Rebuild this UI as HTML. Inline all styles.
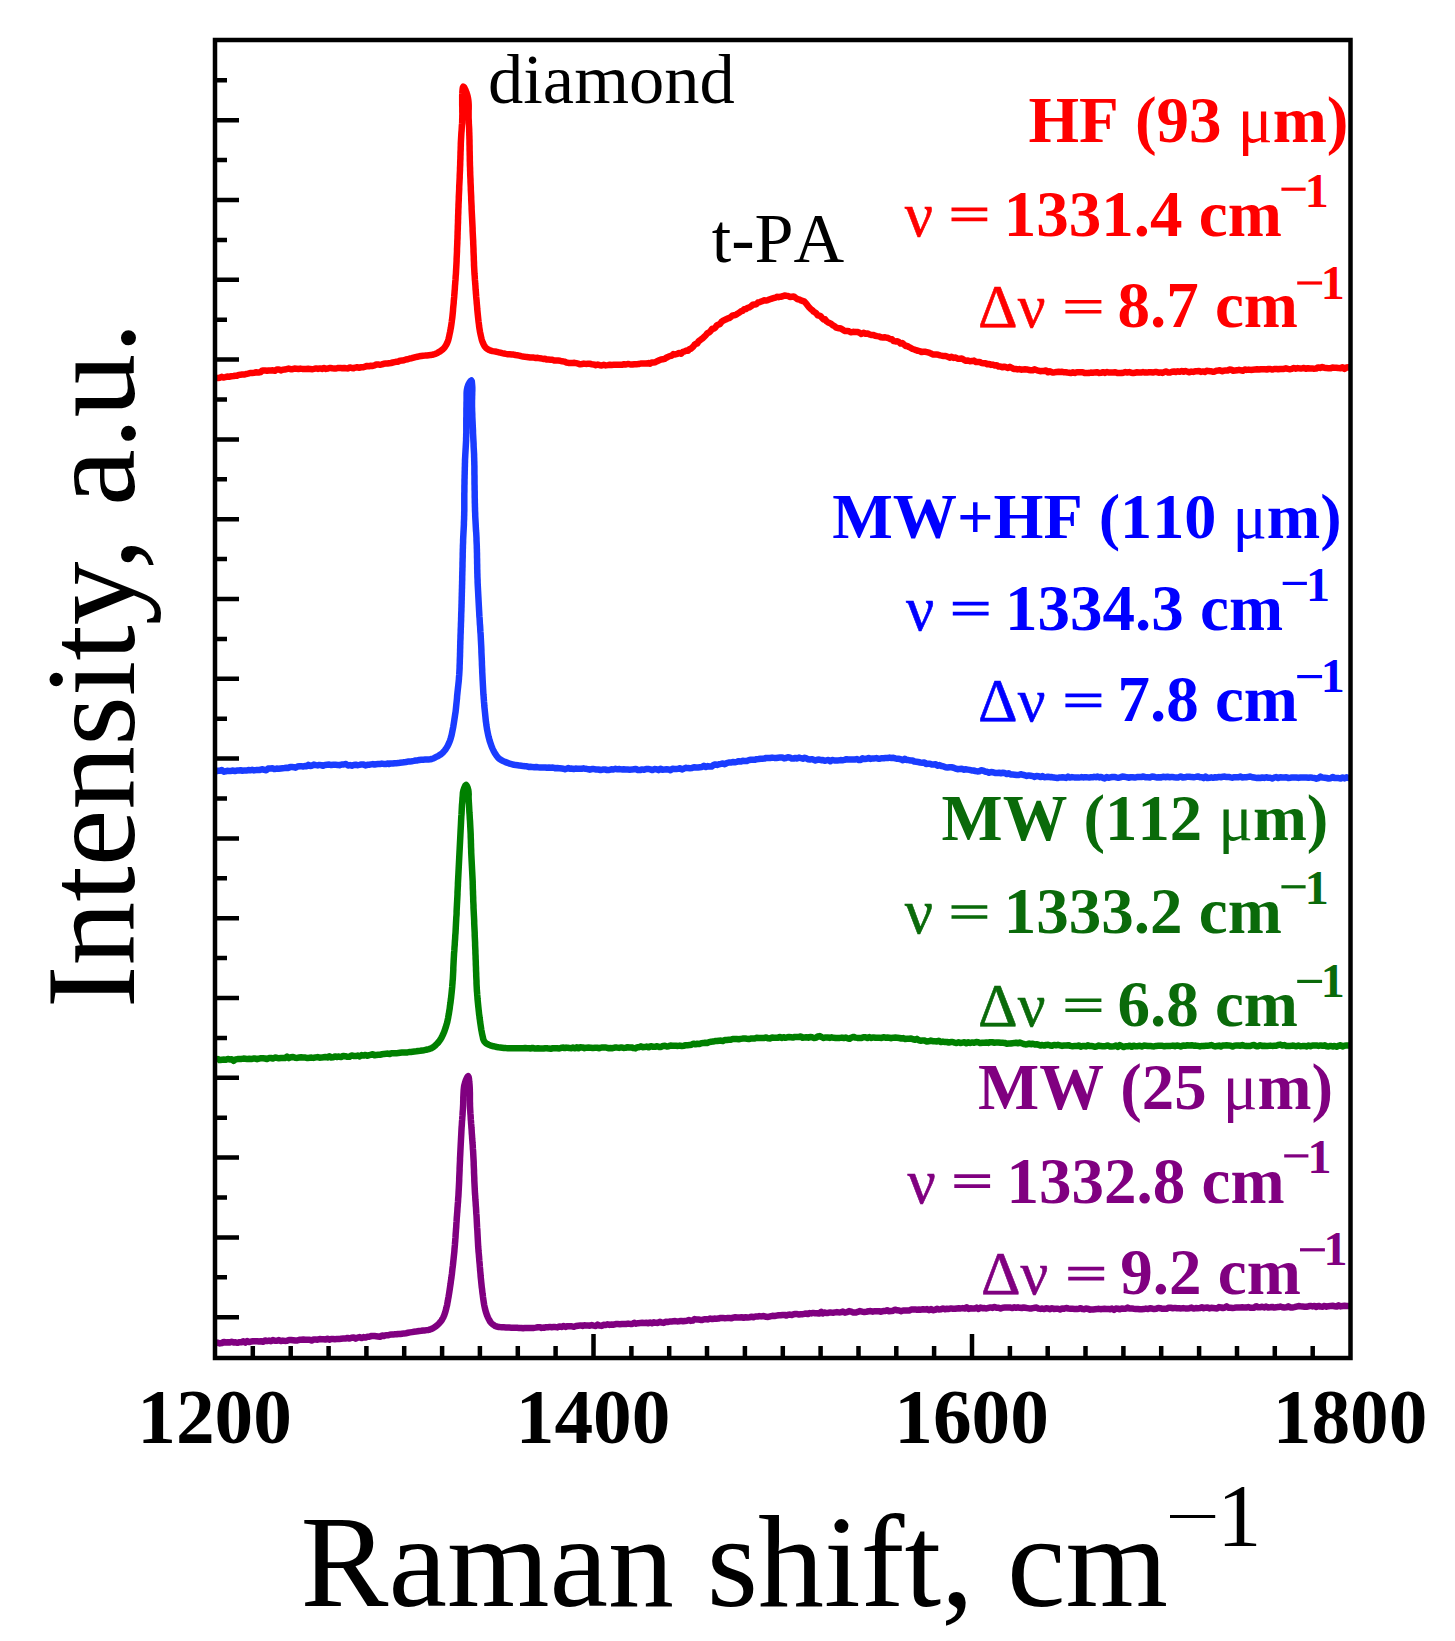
<!DOCTYPE html>
<html><head><meta charset="utf-8"><title>Raman spectra</title>
<style>html,body{margin:0;padding:0;background:#fff;width:1455px;height:1641px;overflow:hidden}svg{display:block}text{font-family:"Liberation Serif",serif;font-kerning:none}</style>
</head><body>
<svg width="1455" height="1641" viewBox="0 0 1455 1641">
<rect width="1455" height="1641" fill="#fff"/>
<g>
<polyline fill="none" stroke="#ff0000" stroke-width="6.5" stroke-linejoin="round" stroke-linecap="butt" points="216.0,378.1 217.9,378.1 219.8,377.7 221.6,376.8 223.4,377.5 225.3,377.1 227.2,376.5 229.2,376.7 231.3,376.3 233.6,376.0 235.2,375.7 236.9,375.7 238.6,374.9 240.4,374.8 242.2,374.4 244.1,374.6 246.1,374.0 248.1,373.6 250.1,373.0 252.1,372.9 254.2,372.7 256.3,372.3 258.4,372.6 260.5,372.1 262.6,370.4 264.7,370.4 266.8,370.8 268.8,370.5 270.9,370.5 272.9,370.3 274.9,370.8 276.9,369.4 278.8,369.5 280.8,370.4 282.7,369.7 284.7,369.6 286.6,369.1 288.6,368.6 290.6,369.2 292.5,369.2 294.5,368.6 296.4,368.8 298.4,369.0 300.3,368.6 302.3,368.9 304.3,369.0 306.2,368.9 308.2,368.7 310.1,369.1 312.1,369.2 314.0,368.9 316.0,368.4 318.0,368.9 320.0,368.4 322.0,368.9 324.0,368.1 326.0,368.9 328.1,368.5 330.1,367.9 332.2,368.3 334.2,368.4 336.2,368.5 338.3,367.9 340.3,367.9 342.3,368.3 344.2,368.0 346.2,368.3 348.1,368.4 349.9,367.4 351.8,368.0 353.6,368.3 355.3,367.6 357.0,367.3 359.2,367.7 361.2,367.3 363.3,367.3 365.2,366.6 367.1,365.9 369.0,366.2 370.9,365.8 372.7,365.9 374.5,365.4 376.3,364.5 378.2,364.4 380.0,364.8 381.9,364.4 383.7,363.8 385.6,363.6 387.4,363.5 389.2,363.2 391.0,363.0 392.8,362.5 394.6,362.1 396.4,361.8 398.2,361.7 400.0,360.7 402.0,360.6 403.9,360.2 405.9,359.5 407.8,359.2 409.8,358.5 411.7,358.2 413.7,357.6 415.5,357.1 417.4,356.7 419.2,356.3 421.1,356.0 423.1,355.7 425.0,355.6 426.9,355.4 428.8,355.2 430.5,355.1 432.1,354.8 433.5,354.5 435.5,353.9 437.1,353.1 438.7,352.2 440.1,351.4 441.4,350.4 442.7,349.4 443.9,348.2 444.9,346.9 445.8,345.5 446.7,344.0 447.4,342.4 448.0,340.8 448.5,339.1 448.9,337.4 449.3,335.6 449.7,333.7 450.1,331.9 450.4,330.1 450.8,328.2 451.1,326.2 451.4,324.2 451.7,322.1 451.9,320.3 452.2,318.5 452.4,316.6 452.6,314.6 452.8,312.6 453.0,310.6 453.1,308.6 453.3,306.7 453.5,304.7 453.7,302.8 453.8,300.9 454.0,298.9 454.2,297.0 454.3,295.1 454.5,293.2 454.6,291.2 454.8,289.3 454.9,287.4 455.0,285.5 455.2,283.6 455.3,281.7 455.5,279.8 455.6,278.0 455.7,276.0 455.9,274.1 456.0,272.1 456.1,270.0 456.2,268.2 456.3,266.5 456.4,264.7 456.5,262.9 456.6,261.0 456.6,259.1 456.7,257.2 456.8,255.3 456.9,253.3 457.0,251.3 457.0,249.2 457.1,247.1 457.2,245.0 457.3,243.3 457.3,241.6 457.4,239.8 457.5,238.0 457.5,236.1 457.6,234.2 457.6,232.3 457.7,230.4 457.8,228.4 457.8,226.5 457.9,224.5 458.0,222.5 458.0,220.5 458.1,218.5 458.1,216.5 458.2,214.5 458.3,212.6 458.3,210.6 458.4,208.7 458.5,206.7 458.5,204.9 458.6,203.0 458.7,201.0 458.8,199.0 458.8,197.0 458.9,195.0 459.0,193.1 459.1,191.1 459.2,189.1 459.2,187.2 459.3,185.2 459.4,183.3 459.5,181.3 459.6,179.4 459.7,177.5 459.7,175.6 459.8,173.8 459.9,171.9 460.0,170.1 460.0,168.3 460.1,166.5 460.2,164.5 460.2,162.5 460.3,160.5 460.4,158.5 460.4,156.6 460.5,154.7 460.5,152.8 460.6,151.0 460.7,149.1 460.7,147.3 460.8,145.4 460.8,143.6 460.9,141.8 461.0,140.0 461.1,138.1 461.2,136.2 461.3,134.4 461.4,132.6 461.6,130.7 461.7,128.9 461.8,127.1 461.9,125.3 462.1,123.5 462.2,121.7 462.2,119.9 462.3,118.0 462.3,116.0 462.4,113.9 462.3,111.8 462.3,109.6 462.3,107.4 462.2,105.2 462.2,103.1 462.2,101.0 462.2,99.1 462.2,97.2 462.2,95.5 462.3,94.0 462.4,91.5 462.6,89.2 462.9,87.4 463.3,86.6 464.0,87.1 464.7,88.4 465.5,90.0 466.0,91.3 466.6,92.8 467.1,94.5 467.6,96.2 468.0,98.1 468.3,100.0 468.5,101.6 468.6,103.3 468.7,105.1 468.7,107.0 468.7,108.9 468.6,110.8 468.6,112.7 468.6,114.5 468.6,116.3 468.6,118.0 468.7,119.8 468.8,121.4 468.8,123.0 468.9,124.5 469.0,126.2 469.1,128.0 469.2,130.0 469.2,131.5 469.3,133.0 469.3,134.7 469.4,136.4 469.4,138.2 469.5,140.1 469.5,142.0 469.5,144.0 469.6,146.0 469.6,148.0 469.6,150.1 469.7,152.2 469.7,154.3 469.8,156.4 469.8,158.5 469.8,160.5 469.9,162.6 469.9,164.6 470.0,166.5 470.1,168.4 470.1,170.3 470.2,172.2 470.2,174.1 470.3,176.0 470.4,177.9 470.5,179.8 470.5,181.7 470.6,183.6 470.7,185.5 470.8,187.5 470.8,189.4 470.9,191.3 471.0,193.2 471.1,195.1 471.2,197.1 471.2,199.1 471.3,201.0 471.4,203.0 471.5,204.9 471.6,206.7 471.6,208.7 471.7,210.6 471.8,212.6 471.9,214.5 472.0,216.5 472.1,218.5 472.2,220.5 472.3,222.5 472.4,224.5 472.5,226.5 472.6,228.4 472.6,230.4 472.7,232.3 472.8,234.2 472.9,236.1 473.0,238.0 473.1,239.8 473.2,241.6 473.2,243.3 473.3,245.0 473.4,247.1 473.5,249.2 473.5,251.3 473.6,253.3 473.7,255.3 473.8,257.2 473.8,259.1 473.9,261.0 474.0,262.9 474.0,264.7 474.1,266.5 474.2,268.2 474.3,270.0 474.4,272.1 474.5,274.1 474.7,276.0 474.8,278.0 474.9,279.8 475.1,281.7 475.2,283.6 475.4,285.5 475.5,287.4 475.6,289.3 475.8,291.2 475.9,293.2 476.1,295.1 476.2,297.0 476.4,298.9 476.6,300.9 476.7,302.8 476.9,304.7 477.1,306.7 477.2,308.6 477.4,310.6 477.6,312.6 477.8,314.6 478.0,316.6 478.2,318.5 478.4,320.3 478.6,322.1 478.9,324.2 479.1,326.2 479.4,328.2 479.7,330.1 480.0,331.9 480.4,333.7 480.8,335.6 481.2,337.4 481.6,339.1 482.1,340.8 482.7,342.4 483.4,344.0 484.2,345.6 485.2,347.0 486.2,348.2 487.6,349.2 489.2,350.0 490.8,350.6 492.6,351.1 494.5,351.4 496.6,351.8 498.3,352.2 500.2,352.6 502.1,353.1 504.0,353.5 505.9,353.9 507.8,354.2 509.7,354.3 511.7,354.5 513.6,354.6 515.5,355.0 517.4,355.3 519.2,355.6 521.1,356.1 523.0,356.5 525.1,356.8 526.8,357.0 528.5,357.2 530.2,357.4 532.0,357.5 533.8,357.6 535.8,358.0 537.8,357.8 540.0,358.3 541.6,358.5 543.2,359.0 544.9,358.7 546.7,359.6 548.5,359.5 550.4,359.7 552.3,359.8 554.2,360.5 556.2,360.6 558.2,360.6 560.2,360.8 562.3,361.3 564.3,361.6 566.4,362.5 568.4,362.9 570.5,362.9 572.5,362.9 574.4,362.8 576.2,363.2 578.1,363.7 580.0,364.3 582.0,364.0 583.9,363.6 585.9,363.9 587.8,363.8 589.8,363.8 591.8,364.2 593.8,364.4 595.8,365.2 597.8,364.6 599.8,365.2 601.8,365.4 603.8,364.8 605.8,365.4 607.8,365.1 609.8,364.7 611.7,364.9 613.7,364.8 615.7,364.7 617.7,364.7 619.8,364.8 621.9,364.8 624.0,364.2 626.1,364.5 628.2,363.9 630.3,364.5 632.4,364.5 634.5,364.2 636.6,364.2 638.7,364.1 640.7,363.5 642.7,363.5 644.6,363.6 646.5,363.6 648.4,363.1 650.1,363.7 651.8,362.4 653.5,362.5 655.0,362.3 657.2,361.2 659.2,360.3 661.1,359.5 662.8,359.3 664.5,358.9 666.2,357.8 667.9,357.0 669.6,356.1 671.4,355.8 673.3,354.1 675.2,354.5 677.2,353.9 679.1,352.9 681.1,353.8 683.0,351.8 684.8,351.3 686.5,350.6 688.0,350.8 689.5,349.1 690.8,348.8 692.0,347.8 693.2,346.6 694.5,344.8 696.0,343.8 697.2,343.6 698.5,341.3 699.8,340.3 701.2,339.3 702.7,338.3 704.2,336.7 705.7,335.4 707.3,333.3 708.9,332.6 710.5,331.1 712.1,328.8 713.7,328.7 715.2,327.8 716.8,325.4 718.3,324.6 719.9,324.1 721.5,321.9 723.0,320.7 724.6,320.0 726.2,319.3 727.8,318.4 729.4,318.0 731.0,316.9 732.6,315.4 734.2,315.3 735.8,314.9 737.4,313.8 739.1,312.8 740.8,311.4 742.5,310.9 744.2,309.2 745.9,309.0 747.6,307.8 749.3,307.4 751.1,306.3 752.8,304.8 754.5,304.5 756.3,304.2 758.0,302.5 759.9,302.1 761.9,301.3 763.9,300.3 765.9,300.6 767.9,300.1 769.9,299.3 771.9,298.6 773.7,298.0 775.5,297.6 777.2,296.8 778.7,297.2 780.8,296.7 782.7,296.3 784.5,295.6 786.5,295.8 788.1,295.9 789.9,297.0 791.8,296.7 793.7,296.4 795.7,297.9 797.6,299.2 799.4,299.4 801.0,300.4 802.6,301.0 804.1,301.4 805.5,302.8 806.8,304.4 808.1,306.2 809.5,307.8 811.0,309.3 812.3,310.0 813.6,311.7 815.0,312.4 816.3,313.4 817.7,315.3 819.1,315.7 820.6,316.2 822.1,318.0 823.6,319.5 825.1,319.3 826.6,321.4 828.1,322.4 829.6,323.0 831.2,323.9 832.8,325.3 834.5,326.1 836.2,327.7 838.1,328.2 840.0,328.2 841.6,329.0 843.3,330.1 845.2,331.1 847.1,330.9 849.0,331.3 851.0,332.3 853.1,331.8 855.1,332.1 857.2,331.9 859.3,332.6 861.4,334.0 863.5,332.8 865.5,333.7 867.5,333.4 869.4,334.4 871.2,335.0 873.0,334.9 875.1,335.7 877.1,336.1 879.0,336.4 880.9,337.3 882.8,337.4 884.6,337.3 886.4,337.6 888.2,338.0 890.0,339.0 891.9,339.3 893.7,341.1 895.4,341.4 897.2,341.3 898.9,342.0 900.6,343.6 902.3,343.1 904.0,344.5 905.7,345.9 907.4,346.1 909.1,347.1 910.8,347.9 912.6,349.0 914.3,349.5 916.1,350.2 917.9,350.8 919.7,351.1 921.5,352.0 923.3,351.7 925.1,351.8 926.9,352.1 928.8,352.6 930.8,353.4 932.8,354.5 935.0,354.6 936.6,354.6 938.4,354.8 940.1,355.3 941.9,355.7 943.8,356.0 945.7,356.0 947.6,356.7 949.6,357.7 951.6,356.8 953.6,357.9 955.6,357.5 957.7,358.7 959.7,358.7 961.8,358.5 963.9,359.8 965.9,360.8 968.0,360.5 970.0,361.2 972.0,361.1 974.0,360.6 976.0,362.0 977.9,362.0 979.8,361.9 981.6,363.1 983.5,363.3 985.4,363.3 987.3,364.2 989.1,363.9 991.0,364.9 992.9,364.6 994.8,365.5 996.7,365.2 998.6,366.6 1000.4,366.5 1002.3,367.3 1004.2,366.7 1006.1,367.2 1008.0,368.0 1009.9,366.9 1011.7,367.8 1013.6,368.9 1015.5,368.9 1017.4,369.4 1019.3,369.1 1021.3,369.7 1023.2,369.4 1025.1,369.3 1026.9,369.4 1028.8,370.0 1030.7,370.2 1032.6,370.3 1034.4,369.3 1036.3,370.0 1038.2,370.7 1040.1,371.2 1042.0,371.0 1044.0,371.0 1046.0,370.5 1048.0,372.3 1050.0,371.2 1052.1,372.4 1054.3,372.4 1056.5,372.0 1058.7,371.8 1060.4,372.1 1062.1,371.7 1063.8,372.3 1065.6,372.2 1067.4,372.5 1069.2,372.7 1071.1,373.1 1073.0,372.3 1074.9,372.9 1076.8,372.2 1078.7,372.2 1080.7,372.3 1082.7,372.2 1084.6,373.0 1086.7,373.0 1088.7,373.1 1090.7,372.6 1092.7,372.8 1094.8,372.4 1096.8,372.2 1098.9,372.9 1101.0,372.8 1103.0,372.2 1105.1,372.9 1107.1,372.0 1109.2,372.6 1111.3,372.4 1113.3,372.5 1115.3,372.2 1117.4,373.1 1119.4,372.9 1121.4,373.1 1123.4,372.7 1125.4,372.1 1127.3,372.5 1129.3,372.1 1131.2,372.8 1133.1,373.1 1135.0,372.7 1137.0,372.3 1139.0,372.4 1141.0,372.6 1143.0,372.0 1145.0,372.6 1147.0,372.6 1148.9,372.3 1150.9,372.3 1152.9,372.5 1154.8,372.1 1156.8,372.1 1158.7,372.7 1160.6,372.4 1162.5,373.0 1164.5,371.9 1166.4,371.5 1168.3,372.6 1170.2,372.5 1172.1,371.8 1174.1,371.5 1176.0,372.0 1177.9,371.3 1179.8,371.8 1181.7,371.0 1183.6,371.8 1185.5,371.0 1187.4,371.7 1189.4,372.3 1191.3,371.6 1193.2,371.9 1195.1,371.3 1197.1,371.2 1199.0,370.9 1200.9,371.9 1202.9,371.4 1204.8,372.0 1206.7,370.8 1208.6,371.1 1210.5,371.2 1212.4,371.7 1214.3,371.8 1216.2,370.7 1218.1,370.5 1220.0,370.2 1221.9,371.3 1223.7,370.7 1225.6,370.4 1227.5,370.6 1229.4,369.5 1231.3,369.8 1233.2,370.7 1235.1,370.5 1237.1,370.3 1239.0,369.8 1240.9,370.3 1242.9,370.7 1244.8,369.5 1246.8,369.9 1248.8,369.6 1250.8,369.9 1252.8,369.7 1254.8,369.6 1256.8,369.2 1258.9,369.5 1260.9,369.2 1263.0,369.3 1264.8,369.3 1266.7,369.5 1268.6,369.0 1270.4,369.0 1272.3,369.6 1274.2,369.0 1276.2,368.9 1278.1,369.3 1280.0,369.0 1282.0,368.9 1283.9,368.9 1285.9,368.3 1287.9,368.9 1289.8,369.2 1291.8,368.9 1293.8,368.0 1295.8,368.7 1297.8,368.1 1299.8,368.4 1301.8,368.5 1303.9,367.9 1305.9,368.8 1307.9,368.2 1310.0,368.5 1312.0,368.4 1314.0,368.7 1316.1,368.6 1318.1,367.4 1320.1,368.0 1322.2,367.1 1324.2,367.7 1326.3,368.1 1328.3,368.2 1330.3,368.3 1332.4,367.6 1334.4,367.8 1336.4,367.7 1338.5,368.1 1340.5,368.2 1342.5,367.3 1344.5,368.9 1346.5,367.4 1348.5,367.2 1350.5,367.5"/>
<polyline fill="none" stroke="#1a3cff" stroke-width="6.5" stroke-linejoin="round" stroke-linecap="butt" points="216.0,771.2 217.9,770.8 219.8,770.8 221.7,770.0 223.6,771.7 225.5,771.4 227.3,770.7 229.2,771.1 231.1,770.9 233.0,770.5 234.9,771.1 236.8,770.6 238.7,770.5 240.6,770.3 242.5,770.7 244.4,770.4 246.3,770.6 248.2,770.1 250.1,770.3 252.1,769.8 254.0,770.4 256.0,770.1 257.9,770.0 260.0,769.9 262.0,769.2 264.1,769.8 266.2,770.2 268.2,768.6 270.3,768.4 272.4,768.3 274.5,769.1 276.6,768.6 278.6,768.8 280.7,768.5 282.7,768.2 284.6,768.0 286.6,767.7 288.5,767.9 290.3,767.0 292.1,767.1 293.8,767.2 295.5,767.7 297.6,766.5 299.6,766.2 301.4,766.2 303.2,766.6 304.9,765.9 306.6,766.3 308.3,764.9 310.1,765.9 311.9,765.7 313.9,764.6 316.0,765.1 317.7,765.4 319.4,764.9 321.3,765.2 323.1,765.8 325.1,764.9 327.1,764.7 329.2,764.5 331.2,765.1 333.3,764.8 335.5,764.8 337.6,764.9 339.7,765.2 341.8,764.5 343.9,764.4 346.0,764.0 348.0,765.5 350.0,765.1 351.9,765.7 353.8,765.0 355.6,764.7 357.3,765.2 359.4,764.9 361.5,764.4 363.5,764.5 365.4,765.4 367.3,764.8 369.2,764.7 371.0,764.4 372.8,764.1 374.6,764.6 376.4,764.2 378.2,763.9 380.0,764.0 381.9,763.6 383.7,763.9 385.6,764.1 387.4,763.5 389.2,764.0 391.0,763.4 392.8,763.5 394.6,763.2 396.4,763.2 398.2,763.1 400.0,762.8 402.0,762.6 403.9,762.3 405.9,762.0 407.9,761.6 409.9,761.4 411.8,761.2 413.8,760.9 415.6,760.5 417.4,760.4 419.2,760.0 421.2,759.8 423.2,759.7 425.1,759.6 427.0,759.5 428.7,759.4 430.3,759.3 431.7,759.0 433.2,758.5 434.5,757.9 435.8,757.2 437.4,756.4 439.0,755.4 440.7,754.4 442.2,753.2 443.5,751.9 444.7,750.5 445.8,749.0 446.8,747.4 447.7,745.8 448.5,744.2 449.3,742.4 450.0,740.6 450.6,738.7 451.1,736.9 451.6,735.1 452.0,733.2 452.4,731.2 452.8,729.2 453.2,727.1 453.5,725.3 453.8,723.5 454.1,721.6 454.4,719.6 454.7,717.6 455.0,715.6 455.3,713.6 455.6,711.7 455.8,709.7 456.0,707.8 456.2,705.9 456.4,703.9 456.6,702.0 456.8,700.1 457.0,698.2 457.1,696.2 457.3,694.3 457.5,692.4 457.7,690.5 457.9,688.7 458.1,686.8 458.3,685.0 458.5,683.2 458.7,681.3 458.9,679.3 459.0,677.2 459.2,675.0 459.3,673.4 459.4,671.6 459.5,669.8 459.6,668.0 459.6,666.0 459.7,664.1 459.8,662.1 459.8,660.1 459.9,658.0 460.0,655.9 460.0,653.9 460.1,651.8 460.1,649.8 460.2,647.7 460.2,645.7 460.3,643.8 460.3,641.9 460.4,640.0 460.5,637.9 460.5,635.9 460.6,633.9 460.7,632.0 460.7,630.0 460.8,628.1 460.9,626.2 460.9,624.3 461.0,622.3 461.1,620.4 461.1,618.4 461.2,616.5 461.2,614.5 461.3,612.4 461.4,610.6 461.4,608.8 461.5,606.9 461.5,605.1 461.6,603.2 461.6,601.3 461.7,599.4 461.7,597.5 461.8,595.6 461.8,593.7 461.9,591.7 461.9,589.8 462.0,587.9 462.0,586.0 462.1,584.0 462.1,582.1 462.2,580.2 462.2,578.3 462.2,576.4 462.3,574.5 462.3,572.6 462.4,570.7 462.4,568.7 462.5,566.8 462.5,564.9 462.5,563.0 462.6,561.0 462.6,559.1 462.7,557.2 462.7,555.3 462.7,553.4 462.8,551.5 462.8,549.6 462.9,547.8 462.9,545.9 463.0,544.1 463.1,542.1 463.1,540.1 463.2,538.1 463.3,536.1 463.4,534.2 463.5,532.2 463.6,530.3 463.7,528.4 463.8,526.5 463.9,524.5 463.9,522.6 464.0,520.7 464.1,518.8 464.1,516.9 464.2,515.0 464.2,513.0 464.3,511.1 464.3,509.1 464.3,507.2 464.3,505.2 464.3,503.3 464.3,501.4 464.3,499.4 464.3,497.5 464.3,495.5 464.3,493.6 464.4,491.6 464.4,489.7 464.4,487.7 464.4,485.8 464.5,483.8 464.5,481.9 464.5,479.9 464.6,477.9 464.6,475.9 464.7,473.9 464.7,471.9 464.8,469.9 464.8,468.0 464.9,466.0 464.9,464.1 465.0,462.2 465.0,460.3 465.1,458.5 465.2,456.6 465.3,454.7 465.4,452.9 465.5,451.1 465.6,449.3 465.7,447.6 465.8,445.8 465.9,444.0 466.0,442.2 466.1,440.4 466.1,438.5 466.2,436.5 466.2,434.7 466.3,432.8 466.3,430.8 466.3,428.8 466.3,426.8 466.3,424.7 466.3,422.6 466.3,420.6 466.3,418.5 466.4,416.4 466.4,414.4 466.4,412.4 466.4,410.4 466.4,408.6 466.5,406.7 466.5,405.0 466.5,403.0 466.6,400.9 466.6,398.9 466.6,397.0 466.6,395.1 466.6,393.3 466.7,391.5 466.9,389.9 467.2,388.4 467.5,387.0 468.3,384.8 469.4,382.6 470.5,381.1 471.3,380.5 471.8,381.4 472.0,383.5 472.2,386.0 472.3,387.4 472.3,389.0 472.3,390.7 472.2,392.5 472.2,394.5 472.1,396.5 472.1,398.6 472.0,400.7 472.0,402.9 472.0,405.0 472.0,406.8 472.1,408.6 472.1,410.5 472.2,412.5 472.3,414.4 472.3,416.5 472.4,418.5 472.5,420.6 472.6,422.7 472.7,424.8 472.8,426.8 472.9,428.8 473.0,430.8 473.0,432.8 473.1,434.7 473.2,436.5 473.3,438.5 473.4,440.4 473.5,442.2 473.6,444.0 473.6,445.8 473.7,447.6 473.8,449.3 473.9,451.1 474.0,452.9 474.1,454.7 474.1,456.6 474.2,458.5 474.2,460.3 474.3,462.2 474.3,464.1 474.4,466.1 474.4,468.0 474.4,470.0 474.4,472.0 474.4,474.0 474.5,476.0 474.5,478.0 474.5,480.0 474.5,482.0 474.5,483.9 474.6,485.8 474.6,487.7 474.6,489.6 474.7,491.5 474.7,493.4 474.7,495.2 474.7,497.1 474.8,498.9 474.8,500.7 474.8,502.5 474.9,504.3 474.9,506.2 475.0,508.1 475.0,510.0 475.1,512.0 475.2,513.8 475.2,515.6 475.3,517.4 475.4,519.2 475.5,521.1 475.6,523.0 475.7,524.8 475.8,526.8 475.9,528.7 476.0,530.6 476.2,532.5 476.3,534.4 476.4,536.4 476.5,538.3 476.5,540.2 476.6,542.2 476.7,544.1 476.8,546.0 476.8,547.9 476.9,549.7 476.9,551.6 477.0,553.5 477.0,555.4 477.0,557.3 477.1,559.2 477.1,561.1 477.1,563.0 477.2,565.0 477.2,566.9 477.2,568.8 477.3,570.7 477.3,572.6 477.4,574.5 477.4,576.4 477.5,578.3 477.6,580.2 477.6,582.1 477.7,584.0 477.8,586.0 477.9,587.9 478.0,589.8 478.1,591.7 478.2,593.7 478.3,595.6 478.4,597.5 478.5,599.4 478.6,601.3 478.7,603.2 478.8,605.1 478.9,606.9 479.0,608.8 479.1,610.6 479.2,612.4 479.3,614.5 479.4,616.5 479.6,618.4 479.7,620.4 479.8,622.3 479.9,624.3 480.1,626.2 480.2,628.1 480.3,630.0 480.4,632.0 480.6,633.9 480.7,635.9 480.8,637.9 480.9,640.0 481.0,641.9 481.1,643.8 481.2,645.7 481.3,647.7 481.4,649.8 481.4,651.8 481.5,653.9 481.6,655.9 481.7,658.0 481.8,660.0 481.9,662.1 481.9,664.1 482.0,666.0 482.1,668.0 482.2,669.8 482.2,671.6 482.3,673.3 482.4,675.0 482.5,677.2 482.6,679.3 482.7,681.2 482.8,683.2 482.9,685.0 483.0,686.8 483.1,688.7 483.2,690.5 483.3,692.4 483.4,694.3 483.6,696.2 483.7,698.2 483.9,700.1 484.0,702.0 484.2,703.9 484.3,705.9 484.5,707.8 484.7,709.7 484.9,711.7 485.1,713.6 485.3,715.6 485.5,717.6 485.7,719.6 485.9,721.6 486.2,723.5 486.4,725.3 486.7,727.1 487.0,729.2 487.4,731.2 487.8,733.2 488.2,735.1 488.6,736.9 489.1,738.7 489.6,740.6 490.2,742.4 490.8,744.1 491.4,745.8 492.0,747.4 492.7,749.0 493.4,750.5 494.1,751.9 494.9,753.2 495.8,754.7 496.7,756.0 497.7,757.2 498.9,758.5 500.5,759.6 501.8,760.3 503.3,761.1 505.0,761.9 506.9,762.6 508.8,763.3 510.7,763.9 512.4,764.3 514.1,764.8 515.9,765.1 517.7,765.3 519.5,765.6 521.4,765.8 523.3,766.1 525.1,766.3 526.9,766.3 528.7,766.9 530.5,766.8 532.3,767.1 534.2,767.2 536.1,767.0 538.0,767.3 540.0,767.5 541.8,767.6 543.6,767.5 545.4,767.5 547.2,767.8 549.0,767.6 551.0,767.8 552.9,767.5 555.0,768.2 557.2,768.0 559.5,768.2 561.9,768.5 563.4,768.7 565.0,769.3 566.6,768.7 568.3,768.1 570.1,768.8 571.9,768.6 573.7,769.0 575.6,768.6 577.5,768.7 579.5,768.8 581.5,768.8 583.5,768.3 585.6,768.8 587.7,769.1 589.8,769.7 591.9,769.1 594.0,769.1 596.2,769.5 598.3,769.5 600.5,770.0 602.7,769.6 604.8,769.4 607.0,770.0 609.1,770.0 611.3,769.3 613.4,769.5 615.5,768.8 617.6,769.3 619.7,769.1 621.7,769.4 623.7,769.3 625.7,769.4 627.7,769.5 629.7,769.7 631.8,769.6 633.8,769.3 635.9,769.0 637.9,770.0 640.0,770.1 642.0,769.4 644.1,769.8 646.2,768.9 648.2,768.9 650.3,769.4 652.4,770.1 654.4,769.1 656.5,769.2 658.5,770.1 660.5,768.7 662.6,769.7 664.6,769.6 666.6,769.2 668.6,769.4 670.5,770.3 672.5,768.7 674.4,769.0 676.3,768.9 678.2,768.7 680.1,768.3 682.0,769.4 683.8,768.7 685.6,767.8 687.7,768.1 689.9,768.3 691.9,768.1 694.0,767.2 696.0,767.5 698.0,767.4 700.0,767.2 701.9,767.0 703.9,765.8 705.8,767.0 707.7,766.1 709.6,766.5 711.5,766.6 713.4,765.1 715.3,764.4 717.2,765.0 719.1,764.3 721.0,763.9 722.9,763.4 724.8,764.2 726.8,763.1 728.8,762.5 730.7,762.6 732.7,762.0 734.7,762.3 736.7,761.8 738.7,761.2 740.7,761.6 742.8,760.8 744.8,761.1 746.8,761.0 748.8,760.1 750.7,759.7 752.7,759.8 754.7,759.8 756.6,759.2 758.6,759.0 760.5,758.7 762.4,758.7 764.3,758.6 766.2,757.9 768.0,757.9 770.1,758.0 772.1,757.6 774.2,757.9 776.2,758.0 778.2,757.7 780.2,757.4 782.1,757.4 784.1,758.4 786.0,758.0 787.9,757.3 789.8,757.4 791.7,758.6 793.6,758.5 795.4,758.0 797.2,758.5 799.0,757.5 801.0,758.2 802.8,758.7 804.7,757.8 806.4,758.4 808.2,759.3 809.9,759.6 811.7,759.2 813.4,759.7 815.3,760.4 817.1,759.8 819.1,759.6 821.2,760.2 822.9,760.1 824.7,760.8 826.5,760.4 828.4,760.0 830.3,761.2 832.2,760.0 834.2,760.4 836.3,760.4 838.3,760.4 840.4,760.1 842.5,760.2 844.5,759.9 846.6,759.2 848.7,759.6 850.8,759.6 852.8,759.5 854.8,759.5 856.8,759.1 858.7,759.9 860.6,759.9 862.5,758.3 864.6,759.1 866.6,758.7 868.6,757.9 870.5,759.0 872.5,758.4 874.4,758.4 876.3,758.1 878.2,758.7 880.1,758.7 882.0,758.2 883.9,758.3 885.8,757.9 887.7,758.0 889.6,757.6 891.5,758.0 893.4,757.8 895.3,758.4 897.2,758.8 899.1,758.8 901.0,759.4 902.9,760.3 904.8,758.7 906.7,759.9 908.6,760.1 910.5,760.5 912.4,760.5 914.3,761.5 916.3,761.7 918.2,762.0 920.2,762.5 922.2,762.7 924.3,762.4 926.1,764.0 928.0,763.8 929.9,763.8 931.8,764.6 933.7,764.5 935.7,764.2 937.6,765.8 939.6,765.1 941.6,766.0 943.6,766.4 945.6,767.2 947.6,767.5 949.6,767.3 951.6,767.3 953.6,767.7 955.6,768.6 957.6,769.2 959.6,768.9 961.6,768.7 963.6,769.7 965.6,769.3 967.6,769.6 969.5,769.9 971.5,770.4 973.4,770.5 975.4,771.0 977.4,771.4 979.3,771.2 981.3,770.3 983.3,770.7 985.2,771.7 987.2,771.8 989.1,772.8 991.1,772.1 993.1,772.3 995.0,772.9 997.0,773.1 999.0,772.8 1000.9,773.2 1002.9,772.8 1004.8,773.0 1006.8,774.1 1008.8,773.2 1010.7,774.4 1012.7,774.5 1014.7,774.7 1016.7,775.0 1018.7,775.0 1020.7,774.2 1022.8,774.8 1024.8,775.2 1026.8,776.0 1028.8,775.4 1030.7,775.7 1032.7,776.1 1034.7,776.9 1036.6,776.0 1038.6,776.2 1040.5,777.1 1042.4,776.1 1044.3,777.2 1046.2,777.0 1048.0,776.7 1050.0,777.2 1051.9,777.0 1053.8,777.6 1055.6,777.7 1057.3,778.1 1059.0,777.5 1060.8,777.5 1062.5,777.3 1064.3,777.5 1066.1,777.9 1068.0,776.6 1069.9,777.6 1072.0,777.1 1074.2,777.4 1076.5,777.4 1079.0,777.6 1080.4,777.4 1081.7,777.1 1083.2,777.4 1084.6,777.3 1086.1,777.2 1087.7,777.4 1089.2,777.6 1090.8,777.3 1092.5,777.3 1094.1,776.8 1095.8,777.2 1097.6,776.5 1099.3,777.5 1101.1,776.9 1102.9,777.8 1104.7,778.4 1106.6,777.1 1108.5,777.8 1110.4,777.4 1112.3,777.0 1114.3,776.9 1116.2,777.4 1118.2,777.8 1120.2,777.3 1122.3,776.6 1124.3,776.8 1126.4,777.1 1128.5,777.7 1130.6,777.3 1132.7,777.3 1134.8,777.6 1136.9,777.1 1139.1,777.1 1141.2,777.1 1143.4,776.4 1145.5,777.3 1147.7,777.3 1149.9,777.5 1152.1,776.6 1154.3,776.8 1156.5,777.5 1158.7,777.2 1160.9,777.6 1163.1,776.7 1165.3,777.2 1167.5,776.8 1169.7,777.2 1171.9,776.9 1174.1,777.3 1176.3,777.5 1178.5,777.4 1180.7,776.4 1182.9,777.5 1185.1,777.3 1187.2,776.7 1189.4,776.7 1191.5,777.1 1193.7,777.3 1195.8,776.9 1197.9,776.4 1200.0,777.2 1201.9,777.2 1203.8,778.1 1205.6,776.6 1207.5,778.1 1209.4,777.8 1211.3,777.3 1213.2,777.8 1215.2,777.2 1217.1,777.5 1219.0,776.9 1220.9,777.2 1222.8,776.8 1224.8,776.6 1226.7,777.1 1228.7,776.9 1230.6,777.4 1232.6,777.7 1234.5,777.2 1236.5,777.3 1238.4,777.3 1240.4,776.6 1242.4,777.4 1244.3,777.3 1246.3,777.3 1248.3,776.9 1250.3,776.5 1252.3,777.2 1254.2,777.5 1256.2,777.9 1258.2,777.8 1260.2,778.0 1262.2,777.5 1264.2,777.9 1266.2,777.3 1268.2,777.7 1270.2,777.8 1272.2,778.5 1274.2,777.6 1276.2,777.0 1278.2,778.1 1280.3,777.2 1282.3,777.5 1284.3,777.4 1286.3,777.2 1288.3,778.1 1290.3,777.8 1292.3,777.4 1294.3,777.6 1296.4,777.5 1298.4,777.9 1300.4,777.5 1302.4,777.4 1304.4,777.4 1306.4,777.5 1308.5,777.8 1310.5,777.4 1312.5,777.7 1314.5,777.9 1316.5,778.7 1318.5,778.1 1320.5,776.6 1322.5,777.6 1324.6,777.7 1326.6,778.0 1328.6,778.5 1330.6,778.2 1332.6,777.0 1334.6,778.0 1336.6,778.0 1338.6,778.1 1340.6,778.5 1342.6,777.5 1344.5,778.4 1346.5,777.3 1348.5,778.0 1350.5,778.2"/>
<polyline fill="none" stroke="#008000" stroke-width="6.5" stroke-linejoin="round" stroke-linecap="butt" points="216.0,1060.9 218.0,1059.0 219.9,1060.1 221.9,1059.7 223.8,1059.6 225.8,1059.7 227.8,1058.9 229.7,1059.5 231.7,1059.2 233.6,1060.8 235.6,1059.4 237.5,1059.1 239.5,1059.1 241.4,1058.9 243.4,1058.6 245.4,1058.8 247.3,1059.1 249.3,1058.7 251.2,1059.1 253.2,1058.6 255.2,1058.6 257.1,1059.2 259.1,1058.7 261.1,1058.2 263.0,1058.3 265.0,1058.5 267.0,1059.0 269.0,1058.1 270.9,1058.0 272.9,1058.5 274.9,1057.6 276.9,1057.8 278.9,1058.3 280.9,1058.1 282.9,1057.9 284.9,1058.1 287.0,1056.6 289.0,1058.1 291.0,1057.3 293.1,1057.0 295.2,1057.8 297.2,1057.9 299.3,1057.5 301.3,1057.2 303.4,1057.6 305.5,1057.6 307.5,1058.1 309.6,1057.8 311.6,1057.6 313.6,1057.9 315.6,1057.4 317.6,1057.1 319.6,1057.7 321.6,1057.6 323.6,1057.3 325.5,1057.0 327.4,1057.4 329.3,1056.2 331.2,1057.5 333.1,1057.3 334.9,1056.4 336.7,1057.0 338.9,1056.5 341.0,1057.1 343.2,1055.9 345.3,1056.2 347.4,1056.8 349.5,1056.8 351.6,1055.4 353.6,1055.9 355.7,1056.1 357.7,1055.6 359.7,1056.4 361.6,1055.1 363.6,1055.6 365.5,1054.9 367.4,1055.8 369.2,1055.1 371.1,1054.8 372.9,1054.2 374.6,1055.3 376.3,1054.9 378.0,1054.7 380.1,1054.7 382.1,1054.3 384.1,1053.9 386.0,1053.7 387.9,1053.6 389.7,1054.0 391.5,1053.2 393.3,1053.3 395.0,1053.2 396.7,1053.2 398.4,1053.1 400.0,1052.7 401.9,1052.5 403.8,1052.6 405.6,1052.6 407.4,1052.4 409.1,1052.1 410.9,1051.9 412.6,1051.7 414.4,1051.5 416.3,1051.3 418.2,1051.0 420.2,1050.8 422.2,1050.5 424.1,1050.2 425.9,1049.8 427.5,1049.5 428.9,1049.1 430.7,1048.5 432.1,1047.8 433.5,1046.9 434.7,1046.0 435.9,1044.9 437.1,1043.6 438.3,1042.4 439.3,1041.1 440.3,1039.7 441.1,1038.4 441.9,1036.9 442.7,1035.3 443.3,1033.9 444.0,1032.3 444.6,1030.6 445.2,1028.9 445.8,1027.2 446.3,1025.4 446.8,1023.7 447.3,1021.8 447.7,1019.9 448.1,1018.1 448.4,1016.2 448.8,1014.2 449.1,1012.1 449.4,1010.3 449.7,1008.5 449.9,1006.6 450.2,1004.6 450.5,1002.6 450.7,1000.6 451.0,998.6 451.2,996.7 451.4,994.7 451.6,992.8 451.8,990.9 452.0,988.9 452.2,987.0 452.3,985.1 452.5,983.2 452.6,981.2 452.8,979.3 452.9,977.4 453.0,975.5 453.1,973.6 453.2,971.8 453.3,969.9 453.3,968.1 453.4,966.2 453.5,964.2 453.6,962.1 453.7,960.0 453.8,958.3 453.9,956.6 454.0,954.8 454.1,952.9 454.3,951.0 454.4,949.1 454.5,947.1 454.7,945.1 454.8,943.1 454.9,941.1 455.1,939.1 455.2,937.0 455.3,935.0 455.5,933.1 455.6,931.1 455.7,929.2 455.8,927.2 455.9,925.2 456.0,923.2 456.1,921.3 456.2,919.3 456.3,917.3 456.5,915.3 456.6,913.3 456.6,911.3 456.7,909.4 456.8,907.5 456.9,905.6 457.0,903.7 457.1,901.8 457.2,900.0 457.3,898.1 457.4,896.2 457.5,894.3 457.5,892.5 457.6,890.7 457.7,888.9 457.8,887.1 457.9,885.3 457.9,883.5 458.0,881.7 458.1,879.9 458.2,878.0 458.3,876.0 458.4,874.1 458.5,872.1 458.6,870.1 458.7,868.1 458.8,866.2 458.9,864.2 459.0,862.2 459.1,860.2 459.2,858.2 459.3,856.2 459.4,854.2 459.5,852.2 459.6,850.3 459.7,848.3 459.8,846.4 459.9,844.5 460.0,842.5 460.1,840.6 460.2,838.6 460.3,836.6 460.4,834.6 460.5,832.6 460.6,830.5 460.7,828.7 460.8,826.8 460.9,824.8 461.0,822.8 461.1,820.7 461.2,818.6 461.3,816.5 461.5,814.5 461.6,812.4 461.7,810.4 461.8,808.4 461.9,806.5 462.0,804.7 462.2,803.0 462.3,801.5 462.4,800.0 462.5,798.0 462.7,796.1 462.8,794.4 462.9,792.8 463.2,791.4 463.5,790.0 464.3,787.8 465.2,785.8 466.1,785.0 466.9,785.9 467.7,787.8 468.3,790.0 468.5,791.4 468.6,792.9 468.7,794.4 468.6,796.1 468.6,798.0 468.7,800.0 468.8,801.5 468.9,803.0 469.0,804.7 469.1,806.5 469.2,808.4 469.3,810.4 469.4,812.4 469.6,814.5 469.7,816.5 469.8,818.6 470.0,820.7 470.1,822.8 470.2,824.8 470.3,826.8 470.4,828.7 470.5,830.5 470.6,832.6 470.7,834.6 470.7,836.6 470.8,838.6 470.9,840.6 470.9,842.5 471.0,844.5 471.0,846.4 471.1,848.3 471.2,850.3 471.2,852.2 471.3,854.2 471.4,856.2 471.5,858.2 471.6,860.1 471.7,862.1 471.8,864.1 471.9,866.1 472.0,868.1 472.1,870.1 472.2,872.0 472.3,874.0 472.4,876.0 472.5,878.0 472.6,880.0 472.7,881.9 472.7,883.9 472.8,885.9 472.8,887.8 472.9,889.8 473.0,891.8 473.0,893.7 473.1,895.7 473.2,897.7 473.2,899.8 473.3,901.8 473.4,903.7 473.5,905.6 473.5,907.5 473.6,909.4 473.7,911.4 473.8,913.3 473.9,915.3 474.0,917.2 474.1,919.2 474.2,921.2 474.2,923.2 474.3,925.2 474.4,927.2 474.5,929.2 474.6,931.1 474.7,933.0 474.7,935.0 474.8,937.0 474.9,939.0 475.0,941.0 475.1,943.0 475.1,945.0 475.2,947.0 475.3,949.0 475.4,951.0 475.4,952.9 475.5,954.7 475.6,956.6 475.6,958.3 475.7,960.0 475.8,962.2 475.8,964.2 475.9,966.2 476.0,968.1 476.0,969.9 476.1,971.8 476.2,973.6 476.2,975.5 476.3,977.4 476.4,979.3 476.5,981.2 476.5,983.2 476.6,985.1 476.7,987.0 476.8,988.9 476.9,990.9 477.1,992.8 477.2,994.7 477.4,996.7 477.5,998.6 477.7,1000.6 477.9,1002.6 478.1,1004.6 478.3,1006.6 478.5,1008.5 478.7,1010.3 478.9,1012.1 479.1,1014.2 479.4,1016.1 479.6,1018.1 479.9,1019.9 480.1,1021.8 480.4,1023.7 480.7,1025.7 481.0,1027.7 481.3,1029.8 481.7,1031.7 482.0,1033.6 482.4,1035.3 482.8,1037.0 483.1,1038.5 483.5,1039.9 484.1,1041.1 485.0,1042.2 486.0,1043.2 487.3,1044.0 488.7,1044.7 490.2,1045.3 491.9,1045.8 493.7,1046.3 495.2,1046.6 496.8,1047.0 498.5,1047.3 500.3,1047.5 502.1,1047.7 504.0,1047.9 505.9,1048.1 507.7,1048.2 509.5,1048.2 511.4,1048.3 513.4,1048.3 515.4,1048.3 517.4,1048.3 519.4,1048.3 521.3,1048.2 523.3,1048.2 525.1,1048.0 527.0,1048.3 528.9,1048.2 530.7,1048.5 532.5,1047.9 534.3,1048.4 536.1,1048.6 538.0,1048.3 540.0,1048.5 541.8,1048.6 543.5,1048.5 545.3,1048.2 547.1,1048.3 548.9,1048.6 550.8,1048.7 552.7,1048.3 554.8,1048.2 557.0,1048.2 559.4,1048.5 561.9,1047.7 563.3,1047.6 564.7,1048.1 566.2,1047.6 567.8,1047.8 569.5,1048.1 571.2,1048.2 572.9,1047.6 574.7,1048.3 576.6,1047.3 578.5,1048.2 580.4,1047.3 582.4,1047.4 584.5,1048.2 586.5,1047.7 588.6,1047.6 590.7,1047.7 592.9,1048.0 595.0,1047.8 597.2,1047.8 599.4,1048.2 601.6,1047.5 603.8,1047.6 606.0,1047.5 608.2,1048.2 610.4,1048.1 612.6,1048.2 614.8,1047.6 617.0,1047.6 619.1,1047.9 621.3,1047.4 623.4,1047.9 625.5,1047.8 627.6,1047.2 629.6,1047.4 631.6,1047.4 633.5,1048.1 635.5,1048.4 637.3,1047.2 639.2,1047.2 640.9,1046.3 642.6,1047.2 644.3,1047.1 646.6,1046.6 648.8,1047.3 650.9,1046.3 653.1,1046.7 655.1,1046.8 657.1,1046.2 659.1,1046.9 661.1,1046.9 663.0,1045.9 664.9,1045.8 666.8,1046.5 668.7,1046.2 670.5,1045.6 672.4,1045.8 674.2,1045.8 676.1,1045.7 678.0,1045.9 679.8,1045.6 681.7,1046.0 683.7,1045.7 685.6,1045.3 687.6,1045.2 689.5,1045.1 691.5,1044.7 693.5,1043.7 695.4,1044.3 697.4,1043.7 699.3,1044.1 701.3,1043.2 703.3,1043.1 705.2,1042.7 707.2,1043.0 709.1,1042.1 711.1,1041.7 713.1,1041.6 715.0,1041.1 717.0,1041.0 718.9,1040.7 720.9,1040.6 722.9,1041.1 724.8,1039.9 726.8,1039.9 728.8,1039.7 730.7,1039.8 732.7,1039.0 734.7,1039.0 736.7,1039.1 738.7,1039.3 740.7,1038.9 742.7,1038.6 744.8,1038.4 746.8,1038.8 748.8,1039.1 750.7,1038.6 752.7,1038.4 754.7,1038.5 756.6,1037.8 758.6,1038.0 760.5,1038.0 762.4,1038.1 764.3,1037.9 766.2,1037.4 768.0,1038.3 770.0,1038.4 772.1,1037.6 774.0,1037.8 775.9,1037.7 777.8,1037.8 779.7,1036.9 781.6,1038.0 783.5,1037.2 785.3,1037.8 787.2,1037.3 789.1,1037.1 791.0,1037.2 792.9,1037.6 794.9,1036.9 796.9,1037.1 799.0,1037.0 800.8,1036.5 802.6,1037.7 804.5,1037.4 806.3,1037.2 808.2,1037.7 810.1,1036.9 812.0,1037.3 813.9,1038.0 815.9,1037.8 817.8,1036.5 819.8,1036.1 821.7,1037.1 823.7,1038.0 825.7,1037.4 827.7,1037.5 829.7,1037.9 831.7,1037.3 833.8,1037.8 835.8,1038.1 837.8,1037.9 839.9,1037.9 841.9,1037.6 843.8,1038.0 845.7,1037.6 847.6,1038.3 849.6,1038.8 851.5,1037.5 853.5,1036.9 855.4,1037.6 857.4,1037.9 859.4,1038.1 861.4,1038.1 863.4,1037.3 865.4,1037.3 867.4,1038.1 869.4,1037.1 871.4,1038.0 873.4,1037.4 875.4,1037.8 877.4,1037.8 879.4,1037.8 881.4,1037.9 883.4,1037.2 885.4,1037.7 887.4,1037.6 889.4,1037.8 891.4,1038.2 893.4,1037.7 895.4,1037.6 897.4,1037.7 899.3,1038.0 901.3,1038.5 903.3,1038.1 905.2,1039.0 907.2,1038.8 909.1,1038.8 911.1,1038.5 913.0,1039.3 915.0,1039.7 916.9,1038.9 918.9,1040.3 920.9,1040.7 922.8,1040.4 924.8,1040.6 926.8,1041.6 928.8,1041.3 930.8,1040.6 932.8,1041.2 934.8,1041.3 936.8,1041.4 938.8,1040.7 940.9,1042.1 942.9,1041.6 945.0,1042.1 946.9,1042.0 948.8,1042.5 950.7,1042.1 952.7,1042.0 954.6,1042.6 956.5,1043.0 958.5,1042.3 960.4,1043.0 962.4,1042.6 964.3,1042.3 966.3,1043.2 968.3,1042.3 970.3,1043.0 972.3,1042.4 974.2,1042.8 976.2,1042.1 978.2,1042.3 980.3,1043.1 982.3,1042.7 984.3,1042.7 986.3,1042.5 988.3,1042.9 990.4,1042.2 992.4,1042.3 994.5,1042.7 996.5,1042.4 998.6,1042.5 1000.6,1042.8 1002.7,1042.8 1004.7,1042.9 1006.8,1043.7 1008.7,1043.5 1010.5,1043.6 1012.4,1043.2 1014.3,1043.1 1016.1,1042.7 1018.0,1043.3 1019.8,1042.6 1021.7,1043.3 1023.6,1044.0 1025.4,1044.4 1027.3,1044.2 1029.1,1043.6 1031.0,1044.2 1032.9,1043.8 1034.8,1044.5 1036.6,1044.3 1038.5,1044.7 1040.4,1045.5 1042.3,1045.0 1044.3,1045.6 1046.2,1044.9 1048.1,1044.8 1050.1,1045.5 1052.0,1045.8 1054.0,1044.9 1056.0,1045.3 1058.0,1044.8 1060.0,1045.3 1062.1,1045.9 1064.1,1045.5 1066.2,1045.4 1068.3,1045.2 1070.4,1045.9 1072.5,1046.2 1074.6,1046.1 1076.8,1046.1 1079.0,1045.5 1080.7,1046.7 1082.5,1046.0 1084.2,1046.0 1086.0,1046.4 1087.8,1045.3 1089.6,1046.1 1091.4,1046.1 1093.2,1046.3 1095.1,1046.8 1096.9,1046.4 1098.8,1045.5 1100.6,1046.1 1102.5,1046.3 1104.4,1046.3 1106.3,1045.8 1108.2,1045.6 1110.1,1046.5 1112.0,1046.4 1114.0,1046.3 1115.9,1045.6 1117.8,1047.0 1119.8,1045.1 1121.8,1046.1 1123.7,1047.1 1125.7,1046.2 1127.7,1046.3 1129.7,1045.7 1131.7,1046.8 1133.7,1045.7 1135.7,1046.3 1137.7,1046.2 1139.8,1045.7 1141.8,1046.5 1143.8,1045.6 1145.9,1045.8 1147.9,1046.1 1150.0,1045.9 1152.0,1046.3 1154.1,1046.4 1156.2,1045.9 1158.2,1045.8 1160.3,1045.8 1162.4,1045.8 1164.5,1046.3 1166.5,1045.9 1168.6,1046.1 1170.7,1045.9 1172.8,1045.6 1174.9,1046.2 1177.0,1045.5 1179.1,1045.9 1181.2,1046.5 1183.2,1045.4 1185.3,1045.8 1187.4,1045.2 1189.5,1045.6 1191.6,1045.2 1193.7,1045.7 1195.8,1045.6 1197.9,1045.9 1200.0,1046.4 1201.9,1045.9 1203.8,1046.1 1205.6,1045.8 1207.5,1045.7 1209.4,1045.5 1211.3,1045.1 1213.2,1045.8 1215.2,1046.4 1217.1,1046.0 1219.0,1045.6 1220.9,1046.4 1222.8,1045.6 1224.8,1045.5 1226.7,1045.3 1228.7,1045.4 1230.6,1045.7 1232.6,1046.6 1234.5,1045.7 1236.5,1045.4 1238.4,1045.5 1240.4,1045.7 1242.4,1045.1 1244.3,1045.8 1246.3,1046.1 1248.3,1045.9 1250.3,1046.0 1252.3,1045.3 1254.2,1045.1 1256.2,1046.3 1258.2,1046.2 1260.2,1045.2 1262.2,1045.9 1264.2,1045.8 1266.2,1046.0 1268.2,1045.9 1270.2,1045.6 1272.2,1045.9 1274.2,1045.8 1276.2,1045.8 1278.2,1045.0 1280.3,1044.6 1282.3,1045.5 1284.3,1045.1 1286.3,1045.9 1288.3,1046.1 1290.3,1045.9 1292.3,1045.6 1294.3,1045.8 1296.4,1046.3 1298.4,1045.5 1300.4,1046.2 1302.4,1046.1 1304.4,1045.9 1306.4,1046.4 1308.5,1045.5 1310.5,1046.2 1312.5,1045.4 1314.5,1045.5 1316.5,1045.4 1318.5,1046.0 1320.5,1045.4 1322.5,1045.8 1324.6,1045.3 1326.6,1046.2 1328.6,1046.5 1330.6,1045.9 1332.6,1046.5 1334.6,1046.0 1336.6,1046.7 1338.6,1045.8 1340.6,1045.2 1342.6,1046.4 1344.5,1045.7 1346.5,1045.4 1348.5,1045.5 1350.5,1045.1"/>
<polyline fill="none" stroke="#800080" stroke-width="6.5" stroke-linejoin="round" stroke-linecap="butt" points="216.0,1342.6 218.0,1342.8 219.9,1343.4 221.9,1343.0 223.8,1342.0 225.8,1342.5 227.8,1342.2 229.7,1342.5 231.7,1341.7 233.6,1342.4 235.6,1342.3 237.5,1342.8 239.5,1342.2 241.4,1342.2 243.4,1341.3 245.4,1342.7 247.3,1341.0 249.3,1342.1 251.2,1341.5 253.2,1341.2 255.2,1341.2 257.1,1341.2 259.1,1341.5 261.1,1341.2 263.0,1341.8 265.0,1340.4 267.0,1341.1 269.0,1340.6 270.9,1341.2 272.9,1340.0 274.9,1340.7 276.9,1340.8 278.9,1340.1 280.9,1341.0 282.9,1340.6 284.9,1340.9 287.0,1340.8 289.0,1340.0 291.1,1340.0 293.1,1340.2 295.2,1340.5 297.2,1340.5 299.3,1339.8 301.3,1339.8 303.4,1339.6 305.5,1339.7 307.5,1339.7 309.6,1339.7 311.6,1340.5 313.6,1339.5 315.6,1339.5 317.6,1339.7 319.6,1339.1 321.6,1339.3 323.6,1339.3 325.5,1339.6 327.4,1338.7 329.3,1339.7 331.2,1338.9 333.1,1339.0 334.9,1339.2 336.7,1339.1 338.9,1339.1 341.0,1338.7 343.2,1338.5 345.3,1338.5 347.4,1337.9 349.5,1338.6 351.6,1337.7 353.6,1337.4 355.7,1338.6 357.7,1337.6 359.7,1337.1 361.6,1338.1 363.6,1337.1 365.5,1337.6 367.4,1336.7 369.2,1336.8 371.1,1336.1 372.9,1335.9 374.6,1336.1 376.3,1336.3 378.0,1336.5 380.1,1336.8 382.1,1335.5 384.0,1336.0 385.9,1335.3 387.7,1335.3 389.5,1334.8 391.3,1334.6 393.0,1334.6 394.8,1334.3 396.5,1334.3 398.2,1334.0 400.0,1334.1 402.0,1333.7 404.0,1333.4 406.0,1333.2 408.0,1332.8 410.0,1332.4 412.0,1332.1 413.9,1331.8 415.7,1331.6 417.5,1331.3 419.2,1331.0 421.2,1330.8 423.2,1330.5 425.1,1330.4 426.9,1330.1 428.5,1329.9 430.0,1329.5 431.7,1328.9 433.2,1328.1 434.6,1327.2 435.8,1326.3 437.0,1325.4 438.2,1324.3 439.3,1323.2 440.4,1321.9 441.5,1320.5 442.4,1319.0 443.3,1317.4 444.0,1315.8 444.6,1314.1 445.2,1312.4 445.7,1310.6 446.2,1308.7 446.6,1306.9 447.1,1305.1 447.4,1303.2 447.8,1301.2 448.1,1299.2 448.5,1297.1 448.8,1295.3 449.1,1293.5 449.4,1291.6 449.7,1289.6 450.0,1287.6 450.3,1285.6 450.6,1283.6 450.8,1281.7 451.1,1279.7 451.4,1277.8 451.6,1275.9 451.9,1273.9 452.1,1272.0 452.3,1270.1 452.5,1268.2 452.8,1266.2 453.0,1264.3 453.2,1262.4 453.4,1260.5 453.6,1258.6 453.8,1256.7 454.0,1254.9 454.2,1253.0 454.4,1251.1 454.5,1249.1 454.7,1247.1 454.9,1245.0 455.0,1243.2 455.2,1241.3 455.3,1239.4 455.5,1237.5 455.6,1235.5 455.7,1233.5 455.9,1231.4 456.0,1229.4 456.2,1227.4 456.3,1225.3 456.4,1223.3 456.6,1221.2 456.7,1219.2 456.8,1217.3 457.0,1215.4 457.1,1213.5 457.3,1211.6 457.4,1209.7 457.5,1207.8 457.7,1205.9 457.8,1204.0 458.0,1202.0 458.1,1200.1 458.2,1198.1 458.4,1196.1 458.5,1194.1 458.6,1192.0 458.7,1190.2 458.8,1188.3 458.9,1186.4 459.0,1184.5 459.1,1182.5 459.2,1180.5 459.2,1178.5 459.3,1176.5 459.4,1174.5 459.5,1172.4 459.6,1170.4 459.6,1168.4 459.7,1166.4 459.8,1164.5 459.9,1162.5 460.0,1160.6 460.0,1158.8 460.1,1157.0 460.2,1155.2 460.3,1153.0 460.4,1150.9 460.5,1148.9 460.6,1146.9 460.7,1144.9 460.8,1143.0 460.9,1141.1 461.0,1139.1 461.1,1137.2 461.2,1135.3 461.3,1133.4 461.4,1131.4 461.5,1129.4 461.6,1127.4 461.8,1125.4 461.9,1123.4 462.0,1121.5 462.2,1119.5 462.3,1117.5 462.5,1115.5 462.6,1113.5 462.7,1111.5 462.9,1109.6 463.0,1107.6 463.1,1105.7 463.2,1103.7 463.2,1101.7 463.3,1099.6 463.3,1097.6 463.4,1095.6 463.5,1093.6 463.6,1091.7 463.7,1089.9 463.9,1088.1 464.1,1086.5 464.4,1085.0 465.0,1082.7 465.8,1080.3 466.7,1078.2 467.5,1076.7 468.1,1076.2 468.6,1077.0 469.0,1078.9 469.2,1081.4 469.5,1084.0 469.6,1085.5 469.7,1087.2 469.8,1089.0 469.8,1090.9 469.9,1092.9 469.9,1095.0 469.9,1097.1 469.9,1099.3 469.9,1101.4 470.0,1103.5 470.0,1105.6 470.1,1107.6 470.2,1109.6 470.3,1111.6 470.4,1113.5 470.6,1115.5 470.7,1117.5 470.8,1119.5 471.0,1121.5 471.1,1123.5 471.3,1125.4 471.4,1127.4 471.6,1129.4 471.7,1131.4 471.8,1133.4 472.0,1135.3 472.1,1137.3 472.2,1139.2 472.4,1141.1 472.5,1143.1 472.7,1145.0 472.8,1147.0 472.9,1149.0 473.1,1151.0 473.2,1153.1 473.3,1155.2 473.4,1157.0 473.5,1158.8 473.6,1160.7 473.7,1162.6 473.7,1164.5 473.8,1166.4 473.9,1168.4 474.0,1170.3 474.0,1172.3 474.1,1174.3 474.2,1176.3 474.3,1178.3 474.3,1180.2 474.4,1182.2 474.5,1184.1 474.6,1186.1 474.7,1188.0 474.8,1190.0 474.9,1192.0 475.0,1193.9 475.2,1195.9 475.3,1197.9 475.4,1199.9 475.6,1201.9 475.7,1203.8 475.8,1205.8 476.0,1207.8 476.1,1209.7 476.2,1211.6 476.3,1213.5 476.5,1215.4 476.6,1217.3 476.7,1219.2 476.8,1221.3 476.9,1223.4 477.0,1225.4 477.1,1227.5 477.3,1229.5 477.4,1231.6 477.5,1233.6 477.6,1235.6 477.7,1237.5 477.8,1239.4 477.9,1241.3 478.0,1243.2 478.1,1245.0 478.2,1247.1 478.4,1249.1 478.5,1251.1 478.7,1253.0 478.9,1254.9 479.0,1256.7 479.2,1258.6 479.3,1260.5 479.5,1262.4 479.7,1264.3 479.8,1266.2 480.0,1268.2 480.1,1270.1 480.3,1272.0 480.5,1273.9 480.6,1275.9 480.8,1277.8 481.0,1279.7 481.2,1281.7 481.4,1283.6 481.6,1285.6 481.8,1287.6 482.1,1289.6 482.3,1291.6 482.5,1293.5 482.8,1295.3 483.0,1297.1 483.3,1299.2 483.6,1301.2 483.9,1303.2 484.2,1305.1 484.6,1306.9 485.0,1308.7 485.5,1310.6 486.0,1312.4 486.6,1314.1 487.2,1315.8 487.9,1317.4 488.7,1319.0 489.5,1320.5 490.4,1322.0 491.4,1323.2 492.5,1324.2 493.8,1325.1 495.1,1325.9 496.6,1326.5 498.2,1326.9 499.9,1327.1 501.8,1327.2 503.8,1327.3 505.9,1327.4 507.6,1327.5 509.3,1327.6 511.2,1327.7 513.2,1327.7 515.2,1327.7 517.3,1327.8 519.3,1328.1 521.3,1328.0 523.2,1328.3 525.1,1327.9 527.0,1328.0 528.8,1328.1 530.5,1328.0 532.2,1328.0 533.9,1327.9 535.8,1327.6 537.8,1327.2 540.0,1327.3 541.5,1327.9 543.0,1327.6 544.6,1327.7 546.3,1327.2 548.0,1327.2 549.8,1326.9 551.6,1327.2 553.5,1327.0 555.4,1327.1 557.4,1327.4 559.4,1326.4 561.4,1326.9 563.5,1326.0 565.5,1326.9 567.6,1326.2 569.7,1326.3 571.9,1326.3 574.0,1326.8 576.1,1326.0 578.3,1325.7 580.4,1325.4 582.5,1325.9 584.3,1325.3 586.2,1325.4 588.0,1325.5 589.9,1325.7 591.8,1325.1 593.7,1325.6 595.7,1326.0 597.6,1324.6 599.6,1325.6 601.6,1325.9 603.6,1324.7 605.6,1325.1 607.6,1324.3 609.6,1324.9 611.7,1324.5 613.7,1324.7 615.7,1324.1 617.8,1324.1 619.8,1324.2 621.9,1324.0 624.0,1323.9 626.0,1324.0 628.1,1323.6 630.1,1323.9 632.2,1324.0 634.2,1322.8 636.2,1323.7 638.3,1323.2 640.3,1323.0 642.3,1322.8 644.3,1322.9 646.2,1322.8 648.2,1323.2 650.1,1322.4 652.0,1323.2 654.0,1322.3 655.9,1322.8 657.8,1322.9 659.8,1321.8 661.7,1322.6 663.6,1322.9 665.6,1321.7 667.5,1322.0 669.4,1321.6 671.4,1321.6 673.3,1321.3 675.3,1321.1 677.2,1321.4 679.1,1321.3 681.1,1320.9 683.0,1321.3 684.9,1321.0 686.9,1320.7 688.8,1320.0 690.7,1320.9 692.7,1320.6 694.6,1319.1 696.5,1319.4 698.5,1319.5 700.4,1319.9 702.3,1319.9 704.3,1319.2 706.2,1319.3 708.2,1319.4 710.2,1318.5 712.3,1319.1 714.3,1318.6 716.4,1318.7 718.5,1318.5 720.6,1317.9 722.7,1317.9 724.8,1318.2 726.9,1318.1 729.0,1317.9 731.1,1318.3 733.2,1317.6 735.3,1317.2 737.4,1317.4 739.5,1317.4 741.5,1317.3 743.6,1317.7 745.6,1317.3 747.6,1317.5 749.6,1317.2 751.6,1316.8 753.6,1317.2 755.5,1316.5 757.4,1316.6 759.2,1316.1 761.1,1316.4 762.9,1316.1 764.6,1316.3 766.3,1316.8 768.0,1317.0 770.2,1316.3 772.4,1315.8 774.5,1316.0 776.6,1315.6 778.6,1315.2 780.6,1315.3 782.6,1315.1 784.5,1314.9 786.4,1315.6 788.2,1314.7 790.0,1314.6 791.9,1315.0 793.7,1314.3 795.4,1314.0 797.2,1314.1 799.0,1314.5 800.9,1314.3 802.8,1314.2 804.5,1313.8 806.3,1313.5 807.9,1314.1 809.6,1313.1 811.3,1313.4 813.1,1312.9 815.0,1313.2 816.9,1313.2 819.0,1313.6 821.2,1311.9 822.7,1313.5 824.3,1312.5 826.0,1312.9 827.7,1313.1 829.4,1312.4 831.2,1312.6 833.1,1312.7 835.0,1312.4 836.9,1312.1 838.9,1312.4 840.9,1312.3 842.9,1311.6 845.0,1312.7 847.0,1312.2 849.1,1311.1 851.3,1311.6 853.4,1312.6 855.6,1312.5 857.7,1311.9 859.9,1311.0 862.0,1311.6 864.2,1312.0 866.4,1311.7 868.5,1311.3 870.6,1311.1 872.8,1311.7 874.9,1311.2 877.0,1311.3 879.0,1311.3 881.1,1311.7 883.1,1311.1 885.1,1311.1 887.1,1310.2 889.1,1311.3 891.1,1311.1 893.1,1310.7 895.1,1309.7 897.1,1310.3 899.1,1310.5 901.1,1311.2 903.1,1310.5 905.1,1310.6 907.1,1310.5 909.1,1310.6 911.1,1309.6 913.1,1309.6 915.1,1309.4 917.0,1309.7 919.0,1309.6 921.0,1309.7 923.0,1309.2 925.0,1309.6 927.0,1309.1 929.0,1310.2 931.0,1309.1 933.0,1310.3 935.0,1309.9 937.0,1308.7 939.0,1309.5 941.0,1309.3 943.0,1308.4 945.0,1309.2 947.0,1308.8 949.0,1308.9 951.0,1308.4 952.9,1308.7 954.9,1308.8 956.9,1308.5 958.9,1308.3 960.8,1308.4 962.8,1308.1 964.8,1308.5 966.7,1307.3 968.7,1308.9 970.7,1308.3 972.6,1308.4 974.6,1308.5 976.6,1307.6 978.6,1309.0 980.5,1307.6 982.5,1308.2 984.5,1308.1 986.5,1308.5 988.5,1307.9 990.5,1307.4 992.5,1308.0 994.5,1306.9 996.6,1307.8 998.6,1307.7 1000.6,1308.5 1002.7,1307.7 1004.7,1307.6 1006.8,1307.5 1008.7,1307.5 1010.5,1307.6 1012.4,1308.1 1014.3,1307.3 1016.1,1307.8 1018.0,1307.3 1019.8,1307.8 1021.7,1308.0 1023.6,1307.5 1025.4,1307.8 1027.3,1308.1 1029.1,1308.4 1031.0,1308.5 1032.9,1308.1 1034.8,1307.8 1036.6,1307.6 1038.5,1308.6 1040.4,1308.9 1042.3,1308.5 1044.3,1309.1 1046.2,1308.3 1048.1,1308.4 1050.1,1309.2 1052.0,1308.2 1054.0,1308.9 1056.0,1308.8 1058.0,1308.8 1060.0,1309.5 1062.1,1308.5 1064.1,1308.7 1066.2,1308.0 1068.3,1308.5 1070.4,1308.7 1072.5,1308.8 1074.6,1308.9 1076.8,1309.1 1079.0,1308.7 1080.7,1308.2 1082.5,1309.1 1084.2,1309.2 1086.0,1308.6 1087.8,1308.7 1089.6,1309.7 1091.4,1309.4 1093.2,1309.5 1095.1,1309.3 1096.9,1309.1 1098.8,1308.8 1100.6,1309.2 1102.5,1308.9 1104.4,1308.8 1106.3,1309.0 1108.2,1308.9 1110.1,1309.3 1112.0,1308.6 1114.0,1309.9 1115.9,1308.5 1117.8,1308.7 1119.8,1309.3 1121.8,1308.5 1123.7,1308.7 1125.7,1308.8 1127.7,1307.6 1129.7,1308.6 1131.7,1308.4 1133.7,1308.7 1135.7,1308.9 1137.7,1309.0 1139.8,1309.3 1141.8,1309.3 1143.8,1309.1 1145.9,1308.6 1147.9,1309.0 1150.0,1308.2 1152.0,1308.5 1154.1,1309.1 1156.2,1308.8 1158.2,1307.9 1160.3,1308.2 1162.4,1308.8 1164.5,1308.7 1166.5,1308.8 1168.6,1307.7 1170.7,1307.8 1172.8,1308.2 1174.9,1307.9 1177.0,1308.3 1179.1,1308.2 1181.2,1308.4 1183.2,1308.1 1185.3,1308.4 1187.4,1308.5 1189.5,1308.2 1191.6,1307.6 1193.7,1308.6 1195.8,1308.1 1197.9,1308.2 1200.0,1308.1 1201.9,1307.3 1203.8,1308.2 1205.6,1307.7 1207.5,1307.4 1209.4,1308.4 1211.3,1307.8 1213.2,1308.0 1215.2,1308.2 1217.1,1308.5 1219.0,1307.1 1220.9,1307.5 1222.8,1308.0 1224.8,1307.5 1226.7,1306.4 1228.7,1307.7 1230.6,1307.7 1232.6,1307.9 1234.5,1307.7 1236.5,1307.4 1238.4,1307.6 1240.4,1307.5 1242.4,1307.3 1244.3,1307.6 1246.3,1307.6 1248.3,1307.0 1250.3,1307.8 1252.3,1307.7 1254.2,1307.7 1256.2,1306.2 1258.2,1307.3 1260.2,1307.2 1262.2,1306.8 1264.2,1307.4 1266.2,1306.6 1268.2,1307.6 1270.2,1307.3 1272.2,1306.9 1274.2,1307.6 1276.2,1307.2 1278.2,1307.1 1280.3,1306.5 1282.3,1307.2 1284.3,1307.5 1286.3,1307.3 1288.3,1306.3 1290.3,1307.4 1292.3,1307.5 1294.3,1307.1 1296.4,1306.6 1298.4,1306.1 1300.4,1306.3 1302.4,1306.4 1304.4,1306.7 1306.4,1306.8 1308.5,1306.3 1310.5,1305.9 1312.5,1306.4 1314.5,1306.0 1316.5,1307.0 1318.5,1305.9 1320.5,1306.6 1322.5,1306.7 1324.6,1305.9 1326.6,1306.7 1328.6,1306.2 1330.6,1305.9 1332.6,1305.8 1334.6,1306.2 1336.6,1306.6 1338.6,1305.4 1340.6,1306.4 1342.6,1306.0 1344.5,1305.8 1346.5,1306.0 1348.5,1306.0 1350.5,1306.0"/>
<rect x="215.0" y="40.0" width="1135.5" height="1318.0" fill="none" stroke="#000" stroke-width="4.5"/>
<path d="M215.0 80.3h12 M215.0 120.2h24 M215.0 160.1h12 M215.0 200.0h24 M215.0 239.9h12 M215.0 279.8h24 M215.0 319.7h12 M215.0 359.6h24 M215.0 399.5h12 M215.0 439.4h24 M215.0 479.3h12 M215.0 519.2h24 M215.0 559.1h12 M215.0 599.0h24 M215.0 638.9h12 M215.0 678.8h24 M215.0 718.7h12 M215.0 758.6h24 M215.0 798.5h12 M215.0 838.4h24 M215.0 878.3h12 M215.0 918.2h24 M215.0 958.1h12 M215.0 998.0h24 M215.0 1037.9h12 M215.0 1077.8h24 M215.0 1117.7h12 M215.0 1157.6h24 M215.0 1197.5h12 M215.0 1237.4h24 M215.0 1277.3h12 M215.0 1317.2h24 M252.8 1358.0v-12 M290.7 1358.0v-12 M328.6 1358.0v-12 M366.4 1358.0v-12 M404.2 1358.0v-12 M442.1 1358.0v-12 M479.9 1358.0v-12 M517.8 1358.0v-12 M555.6 1358.0v-12 M593.5 1358.0v-24 M631.4 1358.0v-12 M669.2 1358.0v-12 M707.0 1358.0v-12 M744.9 1358.0v-12 M782.8 1358.0v-12 M820.6 1358.0v-12 M858.5 1358.0v-12 M896.3 1358.0v-12 M934.1 1358.0v-12 M972.0 1358.0v-24 M1009.9 1358.0v-12 M1047.7 1358.0v-12 M1085.5 1358.0v-12 M1123.4 1358.0v-12 M1161.2 1358.0v-12 M1199.1 1358.0v-12 M1237.0 1358.0v-12 M1274.8 1358.0v-12 M1312.7 1358.0v-12" stroke="#000" stroke-width="4.5" fill="none"/>
<text x="214.6" y="1443.4" text-anchor="middle" font-family="Liberation Serif" font-weight="bold" font-size="77.3">1200</text>
<text x="593.1" y="1443.4" text-anchor="middle" font-family="Liberation Serif" font-weight="bold" font-size="77.3">1400</text>
<text x="971.6" y="1443.4" text-anchor="middle" font-family="Liberation Serif" font-weight="bold" font-size="77.3">1600</text>
<text x="1350.1" y="1443.4" text-anchor="middle" font-family="Liberation Serif" font-weight="bold" font-size="77.3">1800</text>
<text x="300.5" y="1605.6" font-family="Liberation Serif" font-size="131.8">Raman shift, cm</text>
<path d="M1170 1515.1h45.2v3h-45.2z" fill="#000"/>
<text x="1216.9" y="1544.5" font-family="Liberation Serif" font-size="89">1</text>
<text transform="translate(134,1008) rotate(-90)" x="0" y="0" font-family="Liberation Serif" font-size="127.6" style="font-kerning:normal">Intensity, a.u.</text>
<text x="488" y="103.2" font-family="Liberation Serif" font-size="70.5">diamond</text>
<text x="711.7" y="262" font-family="Liberation Serif" font-size="70.2">t-PA</text>
<text x="1028.4" y="142.4" fill="#ff0000" font-family="Liberation Serif" font-weight="bold" font-size="65">HF (93 <tspan font-weight="normal">μ</tspan>m)</text>
<text x="904.7" y="235.8" fill="#ff0000" font-family="Liberation Serif" font-size="62.6" stroke="#ff0000" stroke-width="0.6">ν</text>
<path d="M951.5 207.6h35.8v3.6h-35.8z M951.5 217.6h35.8v3.6h-35.8z" fill="#ff0000"/>
<text x="1003.8" y="235.8" fill="#ff0000" font-family="Liberation Serif" font-weight="bold" font-size="65">1331.4 cm</text>
<path d="M1281.4 187.6h24.2v3.2h-24.2z" fill="#ff0000"/>
<text x="1304.8" y="206.5" fill="#ff0000" font-family="Liberation Serif" font-weight="bold" font-size="48">1</text>
<text x="978.1" y="327.4" fill="#ff0000" font-family="Liberation Serif" font-size="61.5" stroke="#ff0000" stroke-width="0.6">Δν</text>
<path d="M1065.4 300.0h36.0v3.6h-36.0z M1065.4 310.0h36.0v3.6h-36.0z" fill="#ff0000"/>
<text x="1117.5" y="327.4" fill="#ff0000" font-family="Liberation Serif" font-weight="bold" font-size="65">8.7 cm</text>
<path d="M1297.2 281.4h24.9v3.2h-24.9z" fill="#ff0000"/>
<text x="1320.8" y="298.5" fill="#ff0000" font-family="Liberation Serif" font-weight="bold" font-size="48">1</text>
<text x="832.2" y="537.5" fill="#0000ff" font-family="Liberation Serif" font-weight="bold" font-size="64.2">MW+HF (110 <tspan font-weight="normal">μ</tspan>m)</text>
<text x="906.0" y="630" fill="#0000ff" font-family="Liberation Serif" font-size="62.6" stroke="#0000ff" stroke-width="0.6">ν</text>
<path d="M952.8 601.8h35.8v3.6h-35.8z M952.8 611.8h35.8v3.6h-35.8z" fill="#0000ff"/>
<text x="1005.1" y="630" fill="#0000ff" font-family="Liberation Serif" font-weight="bold" font-size="65">1334.3 cm</text>
<path d="M1282.7 581.8h24.2v3.2h-24.2z" fill="#0000ff"/>
<text x="1306.1" y="600.7" fill="#0000ff" font-family="Liberation Serif" font-weight="bold" font-size="48">1</text>
<text x="978.1" y="721" fill="#0000ff" font-family="Liberation Serif" font-size="61.5" stroke="#0000ff" stroke-width="0.6">Δν</text>
<path d="M1065.4 693.6h36.0v3.6h-36.0z M1065.4 703.6h36.0v3.6h-36.0z" fill="#0000ff"/>
<text x="1117.5" y="721" fill="#0000ff" font-family="Liberation Serif" font-weight="bold" font-size="65">7.8 cm</text>
<path d="M1297.2 675.0h24.9v3.2h-24.9z" fill="#0000ff"/>
<text x="1320.8" y="692.1" fill="#0000ff" font-family="Liberation Serif" font-weight="bold" font-size="48">1</text>
<text x="941.6" y="840" fill="#0a6a0a" font-family="Liberation Serif" font-weight="bold" font-size="64.7">MW (112 <tspan font-weight="normal">μ</tspan>m)</text>
<text x="904.7" y="933.4" fill="#0a6a0a" font-family="Liberation Serif" font-size="62.6" stroke="#0a6a0a" stroke-width="0.6">ν</text>
<path d="M951.5 905.2h35.8v3.6h-35.8z M951.5 915.2h35.8v3.6h-35.8z" fill="#0a6a0a"/>
<text x="1003.8" y="933.4" fill="#0a6a0a" font-family="Liberation Serif" font-weight="bold" font-size="65">1333.2 cm</text>
<path d="M1281.4 885.2h24.2v3.2h-24.2z" fill="#0a6a0a"/>
<text x="1304.8" y="904.1" fill="#0a6a0a" font-family="Liberation Serif" font-weight="bold" font-size="48">1</text>
<text x="978.1" y="1025.8" fill="#0a6a0a" font-family="Liberation Serif" font-size="61.5" stroke="#0a6a0a" stroke-width="0.6">Δν</text>
<path d="M1065.4 998.4h36.0v3.6h-36.0z M1065.4 1008.4h36.0v3.6h-36.0z" fill="#0a6a0a"/>
<text x="1117.5" y="1025.8" fill="#0a6a0a" font-family="Liberation Serif" font-weight="bold" font-size="65">6.8 cm</text>
<path d="M1297.2 979.8h24.9v3.2h-24.9z" fill="#0a6a0a"/>
<text x="1320.8" y="996.9" fill="#0a6a0a" font-family="Liberation Serif" font-weight="bold" font-size="48">1</text>
<text x="978.0" y="1108.8" fill="#800080" font-family="Liberation Serif" font-weight="bold" font-size="64.8">MW (25 <tspan font-weight="normal">μ</tspan>m)</text>
<text x="907.5" y="1202.5" fill="#800080" font-family="Liberation Serif" font-size="62.6" stroke="#800080" stroke-width="0.6">ν</text>
<path d="M954.3 1174.3h35.8v3.6h-35.8z M954.3 1184.3h35.8v3.6h-35.8z" fill="#800080"/>
<text x="1006.6" y="1202.5" fill="#800080" font-family="Liberation Serif" font-weight="bold" font-size="65">1332.8 cm</text>
<path d="M1284.2 1154.3h24.2v3.2h-24.2z" fill="#800080"/>
<text x="1307.6" y="1173.2" fill="#800080" font-family="Liberation Serif" font-weight="bold" font-size="48">1</text>
<text x="980.9" y="1294.2" fill="#800080" font-family="Liberation Serif" font-size="61.5" stroke="#800080" stroke-width="0.6">Δν</text>
<path d="M1068.2 1266.8h36.0v3.6h-36.0z M1068.2 1276.8h36.0v3.6h-36.0z" fill="#800080"/>
<text x="1120.3" y="1294.2" fill="#800080" font-family="Liberation Serif" font-weight="bold" font-size="65">9.2 cm</text>
<path d="M1300.0 1248.2h24.9v3.2h-24.9z" fill="#800080"/>
<text x="1323.6" y="1265.3" fill="#800080" font-family="Liberation Serif" font-weight="bold" font-size="48">1</text>
</g>
</svg>
</body></html>
